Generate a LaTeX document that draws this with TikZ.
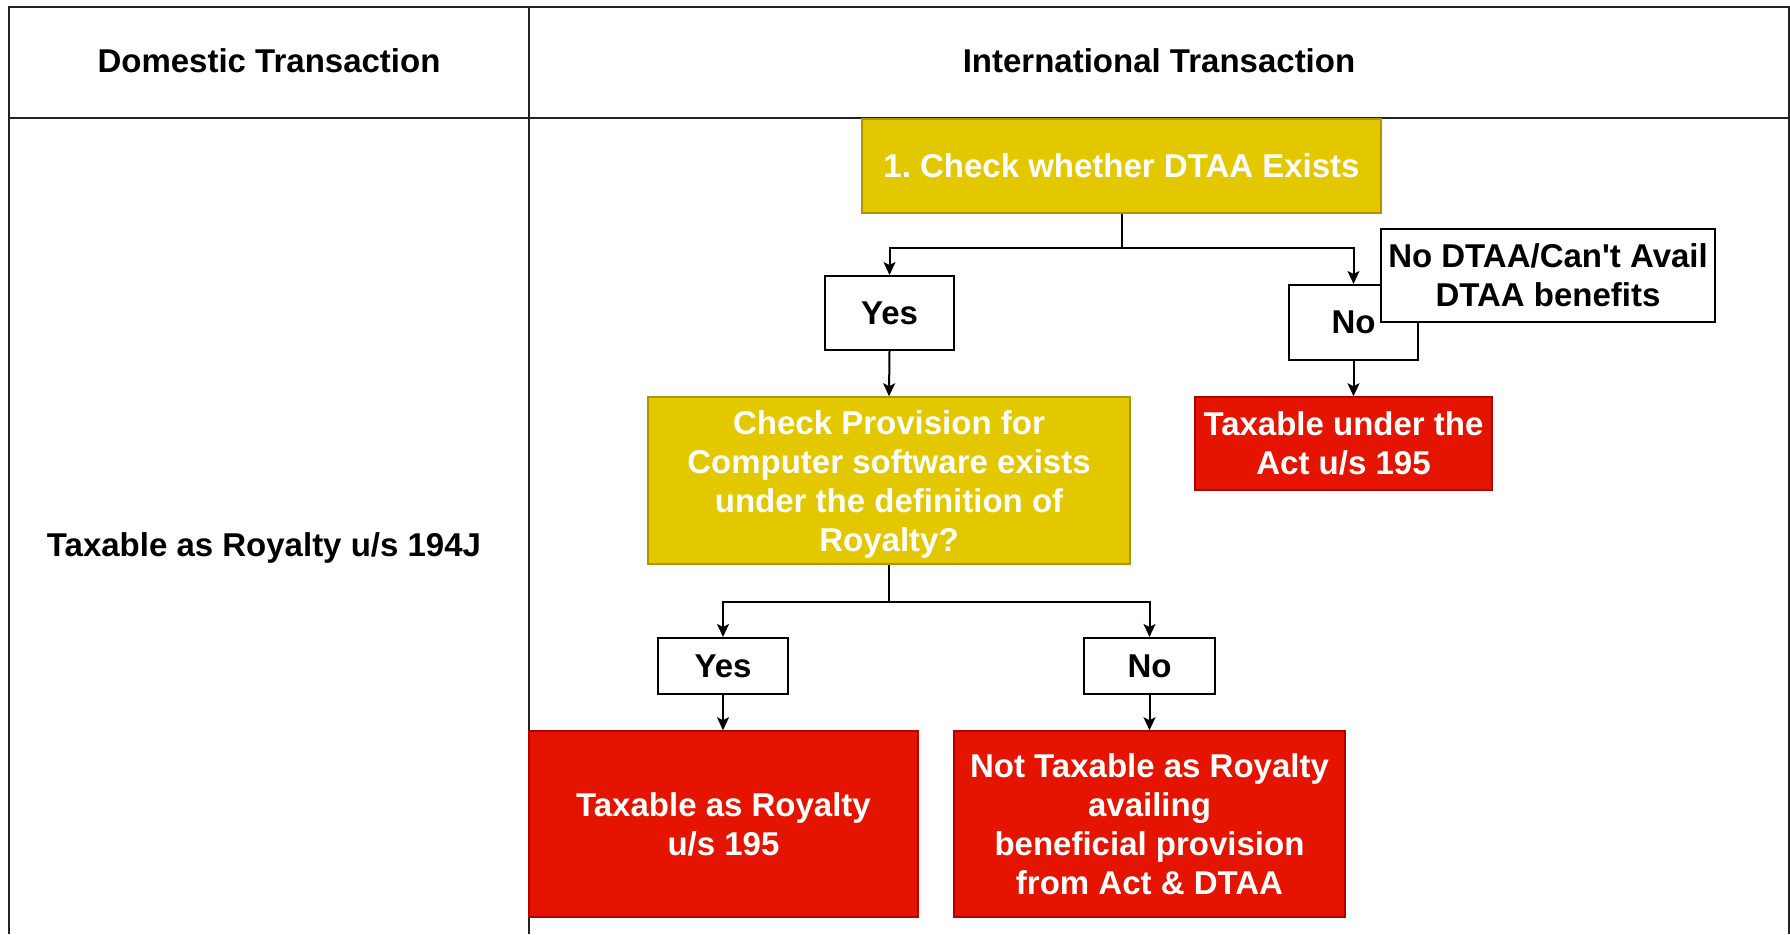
\documentclass[tikz,border=0pt]{standalone}
\usepackage{fontspec}
\setmainfont{Liberation Sans}
\usetikzlibrary{arrows.meta}
\frenchspacing
\definecolor{tline}{HTML}{222222}
\definecolor{yfill}{HTML}{E3C800}
\definecolor{ydraw}{HTML}{B09500}
\definecolor{rfill}{HTML}{E51400}
\definecolor{rdraw}{HTML}{B20000}
\tikzset{
  txt/.style={font=\fontsize{33}{39}\selectfont\bfseries, align=center, inner sep=0pt},
  ybox/.style={txt, draw=ydraw, fill=yfill, text=white, line width=1.5pt},
  rbox/.style={txt, draw=rdraw, fill=rfill, text=white, line width=1.5pt},
  wbox/.style={txt, draw=black, fill=white, text=black, line width=2pt},
  conn/.style={draw=black, line width=2pt, -{Stealth[length=13pt,width=12pt,inset=3pt]}},
  plain/.style={draw=black, line width=2pt},
  tab/.style={draw=tline, line width=2.5pt}
}
\begin{document}
\begin{tikzpicture}[x=1pt,y=-1pt]
\useasboundingbox (0,0) rectangle (1790,934);
% table
\draw[tab] (9,934) -- (9,7) -- (1789,7) -- (1789,934);
\draw[tab] (9,118) -- (1789,118);
\draw[tab] (529,7) -- (529,934);
\node[txt] (hdom) at (269,61) {Domestic Transaction};
\node[txt] (hint) at (1159,61) {International Transaction};
\node[txt] (dom) at (264,548) {Taxable as Royalty u/s 194J};
% flow
\node[ybox, minimum width=519pt, minimum height=94pt] (b1) at (1121.5,166) {1. Check whether DTAA Exists};
\node[wbox, minimum width=129pt, minimum height=74pt] (yes1) at (889.5,313) {Yes};
\node[wbox, minimum width=129pt, minimum height=75pt] (no1) at (1353.5,322.5) {No};
\node[wbox, minimum width=334pt, minimum height=93pt] (nod) at (1548,275.5) {No DTAA/Can\textquotesingle t Avail\\DTAA benefits};
\node[ybox, minimum width=482pt, minimum height=167pt] (chk) at (889,480.5) {\rule{0pt}{31pt}Check Provision for\\Computer software exists\\under the definition of\\Royalty?};
\node[rbox, minimum width=297pt, minimum height=93pt] (tx1) at (1343.5,443.5) {Taxable under the\\Act u/s 195};
\node[wbox, minimum width=130pt, minimum height=56pt] (yes2) at (723,666) {Yes};
\node[wbox, minimum width=131pt, minimum height=56pt] (no2) at (1149.5,666) {No};
\node[rbox, minimum width=389pt, minimum height=186pt] (r1) at (723.5,824) {Taxable as Royalty\\u/s 195};
\node[rbox, minimum width=391pt, minimum height=186pt] (r2) at (1149.5,824) {Not Taxable as Royalty\\availing\\beneficial provision\\from Act \& DTAA};
% connectors
\coordinate (j1) at (1121.5,248);
\coordinate (j2) at (889,602);
\draw[plain] (b1.south) -- (j1);
\draw[conn] (j1) -| (yes1.north);
\draw[conn] (j1) -| (no1.north);
\draw[conn] (yes1.south) -- (chk.north);
\draw[conn] (no1.south) -- (no1.south |- tx1.north);
\draw[plain] (chk.south) -- (j2);
\draw[conn] (j2) -| (yes2.north);
\draw[conn] (j2) -| (no2.north);
\draw[conn] (yes2.south) -- (r1.north -| yes2.south);
\draw[conn] (no2.south) -- (r2.north -| no2.south);
\end{tikzpicture}
\end{document}
